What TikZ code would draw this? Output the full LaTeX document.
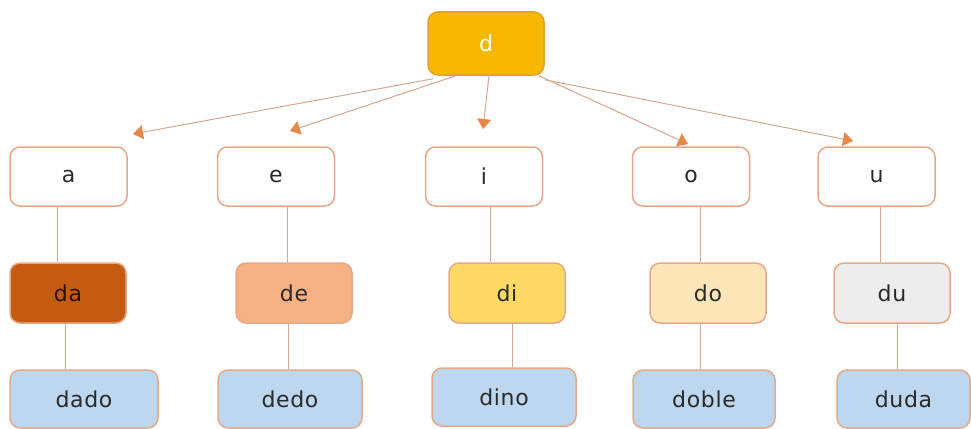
\documentclass[tikz,border=0pt]{standalone}
\usepackage{fontspec}
\setmainfont[LetterSpace=3]{DejaVu Sans}
\usetikzlibrary{arrows.meta}
\definecolor{boxline}{HTML}{E6A988}
\definecolor{conn}{HTML}{D4A890}
\definecolor{tipc}{HTML}{E8874A}
\definecolor{gold}{HTML}{F5B700}
\definecolor{goldline}{HTML}{E2A12E}
\definecolor{cda}{HTML}{C55A11}
\definecolor{cde}{HTML}{F4B183}
\definecolor{cdi}{HTML}{FFD966}
\definecolor{cdo}{HTML}{FFE6B8}
\definecolor{cdu}{HTML}{EDEDED}
\definecolor{cbot}{HTML}{BDD7EE}
\definecolor{txt}{HTML}{2A2A2A}
\tikzset{
  box/.style={draw=boxline, line width=1.5pt, rounded corners=10pt, minimum height=59pt,
    text=txt, font=\fontsize{22}{26}\selectfont, inner sep=0pt},
  vowel/.style={box, fill=white, minimum width=117pt},
  syl/.style={box, minimum width=116pt, minimum height=60pt},
  word/.style={box, fill=cbot, minimum height=58pt},
  conn/.style={draw=conn, line width=1pt},
  arr/.style={conn, -{Triangle[width=14pt,length=10pt,fill=tipc,color=tipc]}}
}
\begin{document}
\begin{tikzpicture}[x=1pt,y=-1pt]
\useasboundingbox (0,0) rectangle (971,428);
\node[box, fill=gold, draw=goldline, text=white, minimum width=116pt, minimum height=63pt] (d) at (486,43.5) {d};
\node[vowel] (a) at (68.5,176.5) {a};
\node[vowel] (e) at (276,176.5) {e};
\node[vowel] (i) at (484,176.5) {i};
\node[vowel] (o) at (691,176.5) {o};
\node[vowel] (u) at (876.5,176.5) {u};
\node[syl, fill=cda, text=black!80!cda] (da) at (68,293) {da};
\node[syl, fill=cde] (de) at (294,293) {de};
\node[syl, fill=cdi] (di) at (507,293) {di};
\node[syl, fill=cdo] (do) at (708,293) {do};
\node[syl, fill=cdu] (du) at (892,293) {du};
\node[word, minimum width=148pt] (dado) at (84,399) {dado};
\node[word, minimum width=144pt] (dedo) at (290,399) {dedo};
\node[word, minimum width=144pt] (dino) at (504,397) {dino};
\node[word, minimum width=142pt] (doble) at (704,399) {doble};
\node[word, minimum width=133pt] (duda) at (903.5,399) {duda};
\coordinate (ta) at (133,134);
\coordinate (te) at (290,131);
\coordinate (ti) at (483,129);
\coordinate (to) at (688,144);
\coordinate (tu) at (853,141);
\draw[arr] ([xshift=6pt,yshift=-3pt]d.south west) -- (ta);
\draw[arr] ([xshift=-30pt]d.south) -- (te);
\draw[arr] ([xshift=3pt]d.south) -- (ti);
\draw[arr] ([xshift=-6pt]d.south east) -- (to);
\draw[arr] ([yshift=-4pt]d.south east) -- (tu);
\draw[conn] ([xshift=-11.5pt]a.south) -- ([xshift=-11pt]da.north);
\draw[conn] ([xshift=-3pt]da.south) -- ([xshift=-19pt]dado.north);
\draw[conn] ([xshift=11pt]e.south) -- ([xshift=-7pt]de.north);
\draw[conn] ([xshift=-6pt]de.south) -- ([xshift=-2pt]dedo.north);
\draw[conn] ([xshift=6pt]i.south) -- ([xshift=-17pt]di.north);
\draw[conn] ([xshift=5pt]di.south) -- ([xshift=8pt]dino.north);
\draw[conn] ([xshift=9pt]o.south) -- ([xshift=-8pt]do.north);
\draw[conn] ([xshift=-8pt]do.south) -- ([xshift=-4pt]doble.north);
\draw[conn] ([xshift=3.5pt]u.south) -- ([xshift=-12pt]du.north);
\draw[conn] ([xshift=5pt]du.south) -- ([xshift=-6.5pt]duda.north);
\end{tikzpicture}
\end{document}
